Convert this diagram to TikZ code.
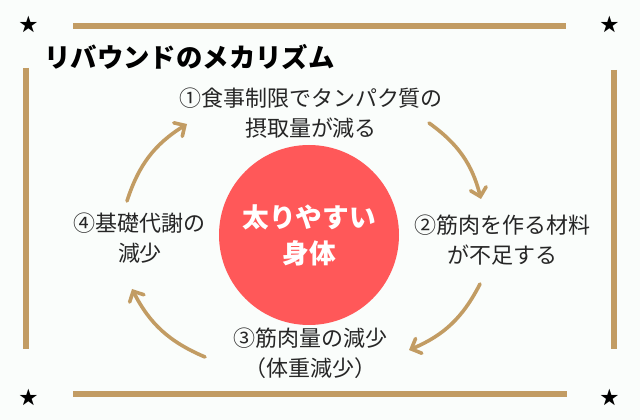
\documentclass[tikz,border=0pt]{standalone}
\usepackage{fontspec}
\newfontfamily\jp{Noto Sans CJK JP}
\usepackage{tikz}
\usetikzlibrary{arrows.meta,positioning}
\definecolor{bggray}{HTML}{FAFDFB}
\definecolor{gold}{HTML}{C29C63}
\definecolor{coral}{HTML}{FF5859}

\begin{document}
\begin{tikzpicture}[
    x=0.75pt, y=-0.75pt,
    bar/.style={draw=gold, line width=4.5pt},
    cyc/.style={draw=gold, line width=2.7pt, line cap=round,
      -{Straight Barb[length=6pt, width=12pt, line cap=round]}},
    lbl/.style={font=\jp\fontsize{16.5}{22.5}\selectfont, align=center, text=black!85},
    starmk/.style={font=\jp\fontsize{14}{14}\selectfont, inner sep=0pt},
    core/.style={circle, fill=coral, minimum size=135pt, text=white, align=center,
      font=\jp\bfseries\fontsize{20}{27}\selectfont},
  ]
  \fill[bggray] (0,0) rectangle (640,420);
  \useasboundingbox (0,0) rectangle (640,420);

  % frame
  \draw[bar] (73,26) -- (566,26);
  \draw[bar] (73,394) -- (567,394);
  \draw[bar] (26,68) -- (26,349);
  \draw[bar] (614,70) -- (614,349);
  \node[starmk] (st1) at (29,24)  {★};
  \node[starmk] (st2) at (610,24) {★};
  \node[starmk] (st3) at (29,397) {★};
  \node[starmk] (st4) at (610,397) {★};

  \node[anchor=west, inner sep=0pt, font=\jp\bfseries\fontsize{19.8}{20}\selectfont]
    (ttl) at (44,57) {リバウンドのメカリズム};

  \node[core] (core) at (309,235) {太りやすい\\身体};

  \node[lbl] (s1) at (311,113) {①食事制限でタンパク質の\\摂取量が減る};
  \node[lbl] (s2) at (502,240) {②筋肉を作る材料\\が不足する};
  \node[lbl] (s3) at (310,353) {③筋肉量の減少\\（体重減少）};
  \node[lbl] (s4) at (140,238) {④基礎代謝の\\減少};

  % cycle arrows
  \coordinate (a1) at (429,123); \coordinate (b1) at (481,199);
  \coordinate (a2) at (480,284); \coordinate (b2) at (409,350);
  \coordinate (a3) at (205,357); \coordinate (b3) at (132,289);
  \coordinate (a4) at (127,201); \coordinate (b4) at (187,124);
  \draw[cyc] (a1) to[bend left=20] (b1);
  \draw[cyc] (a2) to[bend left=20] (b2);
  \draw[cyc] (a3) to[bend left=20] (b3);
  \draw[cyc] (a4) to[bend left=20] (b4);
\end{tikzpicture}
\end{document}
